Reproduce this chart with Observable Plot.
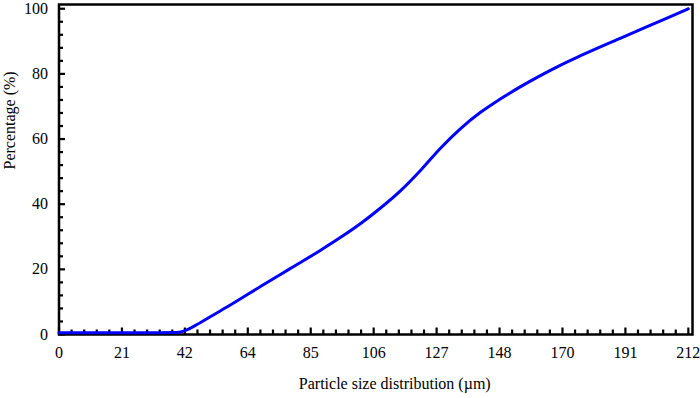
<!DOCTYPE html>
<html><head><meta charset="utf-8">
<script src="https://cdn.jsdelivr.net/npm/d3@7"></script>
<script src="https://cdn.jsdelivr.net/npm/@observablehq/plot@0.6"></script>
<style>
body{margin:0;background:#fff}
svg text{font-family:Liberation Serif, Times New Roman, DejaVu Serif, serif !important;}
</style>
</head><body><div id="chart"></div>
<script>
// Data
const sizes    = [0, 10, 20, 30, 38, 41, 43, 47.7, 52, 58, 68, 78, 88, 95, 101.5, 108, 115, 122, 128.5, 135, 142, 148.5, 155.5, 162, 169, 175.5, 190, 205, 212];
const percents = [0.5, 0.5, 0.5, 0.5, 0.6, 0.8, 1.4, 3.7, 6.0, 9.2, 14.8, 20.3, 25.8, 29.9, 34.0, 38.6, 44.1, 50.6, 57.2, 63.0, 68.2, 72.2, 76.1, 79.4, 82.7, 85.5, 91.3, 97.2, 100];

const xTickValues = d3.range(0, 11).map(i => i * 21.2);
const xTickLabels = ["0", "21", "42", "64", "85", "106", "127", "148", "170", "191", "212"];
const xMinorValues = d3.range(0, 51).filter(i => i % 5 !== 0).map(i => i * 4.24);
const yTickValues = [0, 20, 40, 60, 80, 100];
const yTickLabels = ["0", "20", "40", "60", "80", "100"];
const yMinorValues = d3.range(0, 26).filter(i => i % 5 !== 0).map(i => i * 4);

const xTitle = "Particle size distribution (µm)";
const yTitle = "Percentage (%)";

const FONT = "Liberation Serif, Times New Roman, DejaVu Serif, serif";
const W = 700, H = 398, mL = 58.5, mR = 8, mT = 4, mB = 64;
const xMax = 213.4, yMax = 101.3;
const pxX = (W - mL - mR) / xMax;
const pxY = (H - mT - mB) / yMax;
const majorLen = 6.5, minorLen = 4.5;

const data = sizes.map((x, i) => ({x, y: percents[i]}));

const chart = Plot.plot({
  width: W, height: H,
  marginLeft: mL, marginRight: mR, marginTop: mT, marginBottom: mB,
  x: {domain: [0, xMax], label: null},
  y: {domain: [0, yMax], label: null},
  style: {fontFamily: FONT, fontSize: "16px", background: "white", color: "black"},
  marks: [
    Plot.ruleX(xMinorValues, {x: d => d, y1: 0, y2: minorLen / pxY, stroke: "black", strokeWidth: 2.2}),
    Plot.ruleX(xTickValues, {x: d => d, y1: 0, y2: majorLen / pxY, stroke: "black", strokeWidth: 2.2}),
    Plot.ruleY(yMinorValues, {y: d => d, x1: 0, x2: minorLen / pxX, stroke: "black", strokeWidth: 2.2}),
    Plot.ruleY(yTickValues, {y: d => d, x1: 0, x2: majorLen / pxX, stroke: "black", strokeWidth: 2.2}),
    Plot.axisX(xTickValues, {tickSize: 0, tickPadding: 12, fontSize: 16, fontFamily: FONT, fill: "black",
      tickFormat: d => xTickLabels[xTickValues.indexOf(d)], label: null}),
    Plot.axisY(yTickValues, {tickSize: 0, tickPadding: 11, fontSize: 16, fontFamily: FONT, fill: "black",
      tickFormat: d => yTickLabels[yTickValues.indexOf(d)], label: null}),
    Plot.frame({stroke: "black", strokeWidth: 2.5}),
    Plot.line(data, {x: "x", y: "y", stroke: "#0000ff", strokeWidth: 3, curve: "monotone-x"}),
    Plot.text([xTitle], {text: d => d, frameAnchor: "bottom", dx: 19, dy: 54, fontSize: 16, fontFamily: FONT, fill: "black"}),
    Plot.text([yTitle], {text: d => d, frameAnchor: "left", dx: -49.5, rotate: -90, fontSize: 16, fontFamily: FONT, fill: "black"})
  ]
});
document.getElementById("chart").appendChild(chart);
</script>
</body></html>
